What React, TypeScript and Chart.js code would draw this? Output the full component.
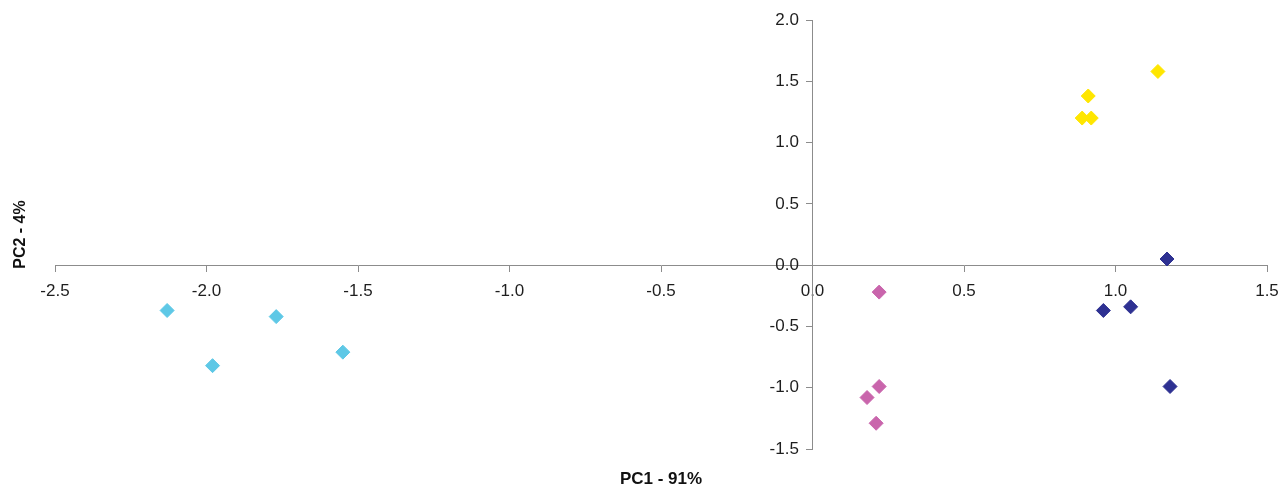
import React, { useEffect, useRef } from "react";
import { Chart, registerables } from "chart.js";

Chart.register(...registerables);

const seriesNames = ["Group A", "Group B", "Group C", "Group D"];
const seriesColors = ["#5EC8E6", "#C965AC", "#2E3192", "#FFE600"];

const cyanX = [-2.13, -1.98, -1.77, -1.55];
const cyanY = [-0.37, -0.82, -0.42, -0.71];

const pinkX = [0.22, 0.22, 0.18, 0.21];
const pinkY = [-0.22, -0.99, -1.08, -1.29];

const navyX = [0.96, 1.05, 1.17, 1.18];
const navyY = [-0.37, -0.34, 0.05, -0.99];

const yellowX = [0.91, 0.89, 0.92, 1.14];
const yellowY = [1.38, 1.2, 1.2, 1.58];

const xTitle = "PC1 - 91%";
const yTitle = "PC2 - 4%";
const xMin = -2.5, xMax = 1.5, yMin = -1.5, yMax = 2.0, tickStep = 0.5;

const toPoints = (xs: number[], ys: number[]) => xs.map((x, i) => ({ x, y: ys[i] }));

const titlePlugin = {
  id: "axisTitles",
  afterDraw(chart: any) {
    const { ctx, chartArea } = chart;
    ctx.save();
    ctx.fillStyle = "#111111";
    ctx.textAlign = "center";
    ctx.textBaseline = "middle";
    ctx.font = "bold 17px 'Liberation Sans', Arial, sans-serif";
    ctx.fillText(xTitle, (chartArea.left + chartArea.right) / 2, chartArea.bottom + 30);
    ctx.font = "bold 16px 'Liberation Sans', Arial, sans-serif";
    ctx.translate(21, (chartArea.top + chartArea.bottom) / 2);
    ctx.rotate(-Math.PI / 2);
    ctx.fillText(yTitle, 0, 0);
    ctx.restore();
  },
};

export default function App() {
  const ref = useRef<HTMLCanvasElement | null>(null);
  useEffect(() => {
    if (!ref.current) return;
    Chart.defaults.font.family = "'Liberation Sans', Arial, sans-serif";
    const data = [
      toPoints(cyanX, cyanY),
      toPoints(pinkX, pinkY),
      toPoints(navyX, navyY),
      toPoints(yellowX, yellowY),
    ];
    const tickFont = { size: 17 };
    const axisGray = "#8C8C8C";
    const chart = new Chart(ref.current, {
      type: "scatter",
      data: {
        datasets: data.map((d, i) => ({
          label: seriesNames[i],
          data: d,
          pointStyle: "rectRot",
          pointRadius: 7,
          pointHoverRadius: 7,
          backgroundColor: seriesColors[i],
          borderColor: seriesColors[i],
          borderWidth: 1,
        })),
      },
      options: {
        animation: false,
        responsive: true,
        maintainAspectRatio: false,
        layout: { padding: { left: 55, right: 16, top: 20, bottom: 37 } },
        plugins: { legend: { display: false }, tooltip: { enabled: false } },
        scales: {
          x: {
            type: "linear",
            min: xMin,
            max: xMax,
            position: { y: 0 } as any,
            border: { display: true, color: axisGray, width: 1 },
            grid: { drawOnChartArea: false, color: axisGray, tickLength: 6 },
            afterFit: (s: any) => {
              s.paddingLeft = 0;
              s.paddingRight = 0;
            },
            ticks: {
              stepSize: tickStep,
              padding: 10,
              color: "#1E1E1E",
              font: tickFont,
              maxRotation: 0,
              callback: (v: any) => Number(v).toFixed(1),
            },
          },
          y: {
            type: "linear",
            min: yMin,
            max: yMax,
            position: { x: 0 } as any,
            border: { display: true, color: axisGray, width: 1 },
            grid: { drawOnChartArea: false, color: axisGray, tickLength: 6 },
            ticks: { stepSize: tickStep, callback: () => "" },
          },
          yLabels: {
            type: "linear",
            axis: "y",
            min: yMin,
            max: yMax,
            position: { x: -0.045 } as any,
            border: { display: false },
            grid: { display: false },
            ticks: {
              stepSize: tickStep,
              color: "#1E1E1E",
              font: tickFont,
              callback: (v: any) => Number(v).toFixed(1),
            },
          },
        },
      },
      plugins: [titlePlugin],
    } as any);
    return () => chart.destroy();
  }, []);
  return (
    <div style={{ position: "fixed", left: 0, top: 0, width: 1283, height: 486, background: "#fff" }}>
      <canvas ref={ref} />
    </div>
  );
}
